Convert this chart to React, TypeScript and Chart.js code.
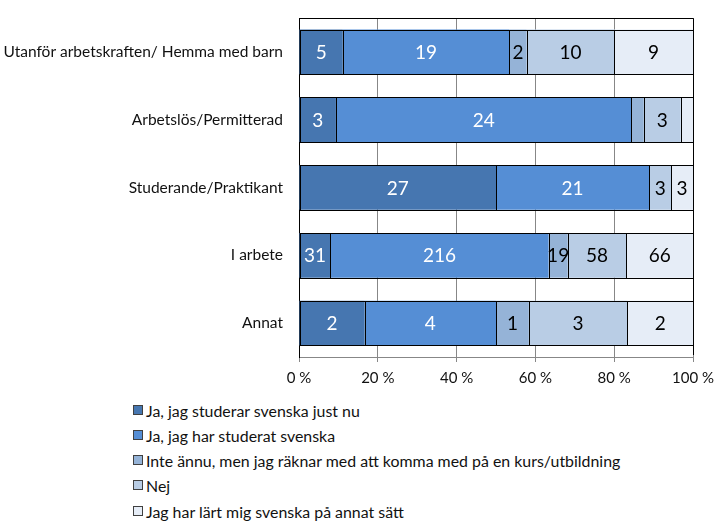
import React, { useEffect, useRef } from "react";
import { Chart, registerables } from "chart.js";

Chart.register(...registerables);

const categories = [
  "Utanför arbetskraften/ Hemma med barn",
  "Arbetslös/Permitterad",
  "Studerande/Praktikant",
  "I arbete",
  "Annat",
];

const seriesNames = [
  "Ja, jag studerar svenska just nu",
  "Ja, jag har studerat svenska",
  "Inte ännu, men jag räknar med att komma med på en kurs/utbildning",
  "Nej",
  "Jag har lärt mig svenska på annat sätt",
];

const studerarNu = [5, 3, 27, 31, 2];
const harStuderat = [19, 24, 21, 216, 4];
const inteAnnu = [2, 1, 0, 19, 1];
const nej = [10, 3, 3, 58, 3];
const annatSatt = [9, 1, 3, 66, 2];

const xTickLabels = ["0 %", "20 %", "40 %", "60 %", "80 %", "100 %"];

const seriesColors = ["#4676B0", "#558ED5", "#95B3D7", "#B9CDE5", "#E6EDF7"];
const labelColors = ["#FFFFFF", "#FFFFFF", "#000000", "#000000", "#000000"];

const FONT = "Lato, 'Liberation Sans', Arial, sans-serif";

export default function App() {
  const canvasRef = useRef<HTMLCanvasElement | null>(null);

  useEffect(() => {
    const canvas = canvasRef.current;
    if (!canvas) return;
    const series = [studerarNu, harStuderat, inteAnnu, nej, annatSatt];
    const totals = categories.map((_, i) => series.reduce((s, arr) => s + arr[i], 0));

    const barBorders = {
      id: "barBorders",
      afterDatasetsDraw(chart: any) {
        const ctx = chart.ctx;
        ctx.save();
        ctx.strokeStyle = "#000";
        ctx.lineWidth = 1;
        chart.data.datasets.forEach((_ds: any, di: number) => {
          const meta = chart.getDatasetMeta(di);
          meta.data.forEach((el: any, i: number) => {
            if (!series[di][i]) return;
            const x0 = Math.round(Math.min(el.x, el.base));
            const x1 = Math.round(Math.max(el.x, el.base));
            const y0 = Math.round(el.y - el.height / 2);
            const y1 = Math.round(el.y + el.height / 2);
            ctx.strokeRect(x0 + 0.5, y0 + 0.5, x1 - x0, y1 - y0);
          });
        });
        ctx.restore();
      },
    };

    const valueLabels = {
      id: "valueLabels",
      afterDatasetsDraw(chart: any) {
        const ctx = chart.ctx;
        ctx.save();
        ctx.font = `19px ${FONT}`;
        ctx.textAlign = "center";
        ctx.textBaseline = "middle";
        chart.data.datasets.forEach((_ds: any, di: number) => {
          const meta = chart.getDatasetMeta(di);
          meta.data.forEach((el: any, i: number) => {
            const raw = series[di][i];
            if (!raw) return;
            const w = Math.abs(el.x - el.base);
            if (w < 15) return;
            ctx.fillStyle = labelColors[di];
            ctx.fillText(String(raw), (el.x + el.base) / 2, el.y + 1);
          });
        });
        ctx.restore();
      },
    };

    const frame = {
      id: "frame",
      afterDraw(chart: any) {
        const { ctx, chartArea } = chart;
        ctx.save();
        ctx.strokeStyle = "#000";
        ctx.lineWidth = 1;
        ctx.beginPath();
        ctx.moveTo(Math.round(chartArea.left) + 0.5, Math.round(chartArea.top) + 0.5);
        ctx.lineTo(Math.round(chartArea.right) + 0.5, Math.round(chartArea.top) + 0.5);
        ctx.lineTo(Math.round(chartArea.right) + 0.5, Math.round(chartArea.bottom) - 2);
        ctx.stroke();
        ctx.restore();
      },
    };

    const chart = new Chart(canvas, {
      type: "bar",
      data: {
        labels: categories,
        datasets: series.map((arr, di) => ({
          label: seriesNames[di],
          data: arr.map((v, i) => (v / totals[i]) * 100),
          backgroundColor: seriesColors[di],
          borderWidth: 0,
          barPercentage: 0.66,
          categoryPercentage: 1,
        })),
      },
      options: {
        indexAxis: "y",
        responsive: false,
        animation: false,
        devicePixelRatio: 1,
        layout: { padding: { top: 18, right: 34, left: 0, bottom: 0 } },
        plugins: {
          legend: { display: false },
          tooltip: { enabled: false },
        },
        scales: {
          x: {
            stacked: true,
            min: 0,
            max: 100,
            afterFit: (scale: any) => {
              scale.height = 38;
            },
            ticks: {
              stepSize: 20,
              padding: 7,
              color: "#111",
              font: { family: FONT, size: 15 },
              callback: (_v: any, i: number) => xTickLabels[i],
            },
            grid: { color: "#878787", lineWidth: 1, tickLength: 5, drawTicks: true },
            border: { color: "#878787" },
          },
          y: {
            stacked: true,
            afterFit: (scale: any) => {
              scale.width = 299;
              scale.paddingTop = 0;
              scale.paddingBottom = 0;
            },
            ticks: {
              padding: 16,
              color: "#111",
              font: { family: FONT, size: 15.5 },
            },
            grid: { display: false, drawTicks: false },
            border: { color: "#000" },
          },
        },
      },
      plugins: [barBorders, valueLabels, frame],
    } as any);

    return () => chart.destroy();
  }, []);

  const legendTop = [401, 426, 451, 476, 502];

  return (
    <div style={{ position: "absolute", left: 0, top: 0, width: 727, height: 530, background: "#fff" }}>
      <canvas ref={canvasRef} width={727} height={395} style={{ position: "absolute", left: 0, top: 0 }} />
      {seriesNames.map((name, i) => (
        <div
          key={name}
          style={{
            position: "absolute",
            left: 133,
            top: legendTop[i],
            height: 18,
            display: "flex",
            alignItems: "center",
            fontFamily: FONT,
            fontSize: 15.9,
            color: "#111",
            whiteSpace: "nowrap",
          }}
        >
          <span
            style={{
              display: "inline-block",
              width: 8,
              height: 8,
              background: seriesColors[i],
              border: "1px solid #404040",
              marginRight: 3,
            }}
          />
          <span>{name}</span>
        </div>
      ))}
    </div>
  );
}
